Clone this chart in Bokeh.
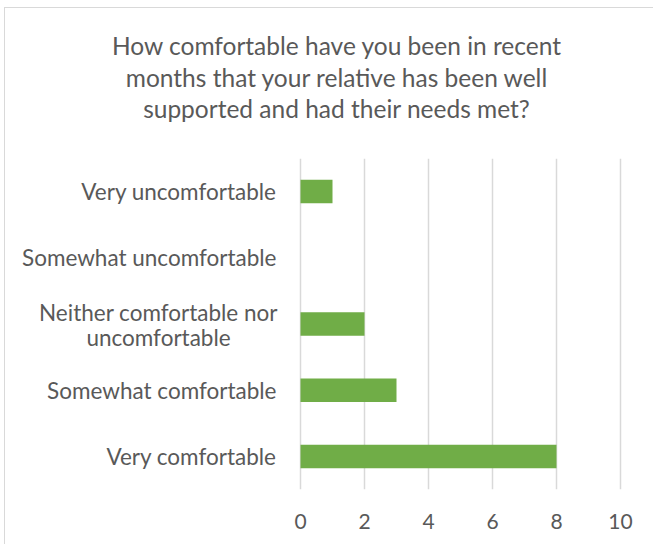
from bokeh.plotting import figure
from bokeh.models import FactorRange, ColumnDataSource, Div
from bokeh.core.properties import value
from bokeh.layouts import column
from bokeh.embed import file_html
from bokeh.resources import INLINE

categories = ["Very comfortable", "Somewhat comfortable",
              "Neither comfortable nor uncomfortable",
              "Somewhat uncomfortable", "Very uncomfortable"]
values = [8, 3, 2, 0, 1]
x_ticks = [0, 2, 4, 6, 8, 10]
title_lines = ["How comfortable have you been in recent",
               "months that your relative has been well",
               "supported and had their needs met?"]
wrapped_label = ["Neither comfortable nor", "uncomfortable"]

FONT = "Lato"
TXT = "#595959"
GRID = "#D9D9D9"
PX_PER_UNIT = 32.0          # layout: pixel width of one x unit
LEFT_SPACE = 295.0          # layout: pixels left of the value axis origin
RIGHT_SPACE = 352.0         # layout: pixels right of the value axis origin

title = Div(text="<br>".join(title_lines), width=647, height=127,
            styles={"font-family": FONT, "font-size": "24.5px", "line-height": "31.5px",
                    "color": TXT, "text-align": "center", "padding-top": "17px",
                    "padding-left": "6px", "box-sizing": "border-box", "width": "647px"})

p = figure(width=647, height=399, y_range=FactorRange(*categories),
           x_range=(-LEFT_SPACE / PX_PER_UNIT, RIGHT_SPACE / PX_PER_UNIT),
           output_backend="svg", toolbar_location=None,
           min_border_left=0, min_border_right=0, min_border_top=13, min_border_bottom=55)

p.hbar(y=categories, right=values, left=0, height=0.355, fill_color="#70AD47", line_color=None)

single = [c for c in categories if c != "Neither comfortable nor uncomfortable"]
src1 = ColumnDataSource(dict(x=[0] * len(single), y=single, text=single))
p.text(x="x", y="y", text="text", source=src1, x_offset=-24,
       text_align="right", text_baseline="middle", text_font=value(FONT),
       text_font_size="22.5px", text_color=TXT)

src2 = ColumnDataSource(dict(x=[0, 0], y=["Neither comfortable nor uncomfortable"] * 2,
                             text=wrapped_label, dy=[-12, 13]))
p.text(x="x", y="y", text="text", source=src2, x_offset=-142, y_offset="dy",
       text_align="center", text_baseline="middle", text_font=value(FONT),
       text_font_size="22.5px", text_color=TXT)

p.xaxis.ticker = x_ticks
p.xaxis.axis_line_color = None
p.xaxis.major_tick_line_color = None
p.xaxis.minor_tick_line_color = None
p.xaxis.major_label_text_font = FONT
p.xaxis.major_label_text_font_size = "21px"
p.xaxis.major_label_text_color = TXT
p.xaxis.major_label_standoff = 18

p.yaxis.visible = False

p.xgrid.ticker = x_ticks
p.xgrid.grid_line_color = GRID
p.xgrid.grid_line_width = 1.5
p.ygrid.grid_line_color = None
p.outline_line_color = None

layout = column(title, p, margin=(7, 0, 0, 4),
                styles={"border-left": "1px solid #D9D9D9", "border-top": "1px solid #D9D9D9"})

open("out.html", "w").write(file_html(layout, INLINE))
